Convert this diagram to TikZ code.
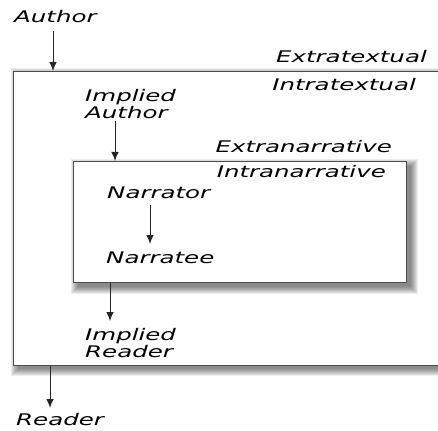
\documentclass[tikz,border=0pt]{standalone}
\usepackage{fontspec}
\setmainfont{DejaVu Sans}[FakeStretch=1.53]
\usetikzlibrary{arrows.meta}
\begin{document}
\begin{tikzpicture}[x=1pt,y=-1pt,
  lab/.style={inner sep=0pt, font=\fontsize{16}{17.5}\selectfont\itshape, text=black},
  arr/.style={draw=black!85, line width=1pt, -{Latex[length=9pt,width=7.5pt]}},
  frame/.style={draw=black!70, line width=1.2pt, fill=white, inner sep=0pt, anchor=north west}]
\useasboundingbox (0,0) rectangle (438,430);
% soft shadows
\foreach \k in {7,6,...,0}{
  \fill[black, opacity=0.07] (13+5-\k,71+4-\k) rectangle (455+\k,365+4+\k);
}
\node[frame, minimum width=440pt, minimum height=294pt] (outer) at (13,71) {};
\foreach \k in {7,6,...,0}{
  \fill[black, opacity=0.07] (73+5-\k,161+5-\k) rectangle (406+5+\k,282+5+\k);
}
\node[frame, minimum width=333pt, minimum height=121pt] (inner) at (73,161) {};
% labels
\node[lab, anchor=west] (author) at (14,17) {Author};
\node[lab, anchor=east] (extra) at (427,57) {Extratextual};
\node[lab, anchor=east] (intra) at (416,85) {Intratextual};
\node[lab, anchor=west, align=left] (iauthor) at (85,104) {Implied\\Author};
\node[lab, anchor=east] (extran) at (392,147) {Extranarrative};
\node[lab, anchor=east] (intran) at (386,172) {Intranarrative};
\node[lab, anchor=west] (narrator) at (107,193) {Narrator};
\node[lab, anchor=west] (narratee) at (106,258) {Narratee};
\node[lab, anchor=west, align=left] (ireader) at (85,343) {Implied\\Reader};
\node[lab, anchor=west] (reader) at (16,420) {Reader};
% arrow end points
\coordinate (a1) at (53,31);
\coordinate (a2) at (115,121);
\coordinate (a3) at (150,205);
\coordinate (a3e) at (150,244);
\coordinate (a4) at (110,321);
\coordinate (a5) at (50,408);
% arrows
\draw[arr] (a1) -- (a1 |- outer.north);
\draw[arr] (a2) -- (a2 |- inner.north);
\draw[arr] (a3) -- (a3e);
\draw[arr] (a4 |- inner.south) -- (a4);
\draw[arr] (a5 |- outer.south) -- (a5);
\end{tikzpicture}
\end{document}
